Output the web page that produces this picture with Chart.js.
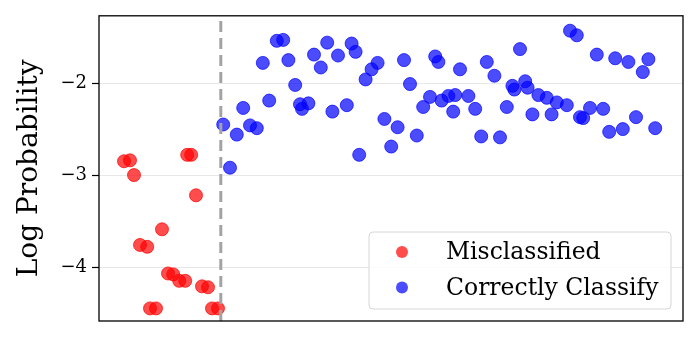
<!DOCTYPE html>
<html>
<head>
<meta charset="utf-8">
<script src="https://cdn.jsdelivr.net/npm/chart.js@4.4.1/dist/chart.umd.min.js"></script>
<style>
    html, body { margin: 0; padding: 0; background: #fff; }
    #wrap { width: 698px; height: 337px; }
</style>
</head>
<body>
<div id="wrap"><canvas id="probChart"></canvas></div>
<script>
// sample position (index-like) and log probability
const redX = [6.5, 8, 9, 10.5, 12.3, 13, 14.5, 16, 17.5, 18.8, 20.3, 21.8, 22.3, 23.3, 24.5, 26, 27.5, 28.5, 30];
const redY = [-2.85, -2.84, -3.0, -3.76, -3.78, -4.45, -4.45, -3.59, -4.07, -4.08, -4.15, -4.15, -2.78, -2.78, -3.22, -4.21, -4.22, -4.45, -4.45];

const blueX = [31.3, 33, 34.7, 36.3, 38, 39.7, 41.2, 42.8, 44.7, 46.3, 47.6, 49.3, 50.5, 51, 52.6, 54, 55.7, 57.3, 58.6, 60,
    62.2, 63.4, 64.4, 65.3, 66.9, 68.4, 69.9, 71.6, 73.3, 74.9, 76.5, 78, 79.7, 81.3, 83, 84.3, 85.1, 85.9, 87.6, 88.8,
    89.3, 90.5, 92.6, 94.3, 95.8, 97.2, 99.1, 100.5, 102.2, 103.6, 104.1, 105.5, 106.8, 107.4, 108.6, 110.1, 112.2, 113.4, 114.7, 117.2,
    118, 119.7, 120.5, 121.3, 123, 124.7, 126.3, 127.8, 129.3, 131.2, 132.6, 134.5, 136.2, 137.6, 139.3];
const blueY = [-2.45, -2.92, -2.56, -2.27, -2.46, -2.49, -1.78, -2.19, -1.54, -1.53, -1.75, -2.02, -2.23, -2.28, -2.22, -1.69, -1.83, -1.56, -2.31, -1.70,
    -2.24, -1.57, -1.66, -2.78, -1.96, -1.85, -1.78, -2.39, -2.69, -2.48, -1.75, -2.01, -2.57, -2.26, -2.15, -1.71, -1.77, -2.19, -2.14, -2.31,
    -2.13, -1.85, -2.14, -2.28, -2.58, -1.77, -1.92, -2.59, -2.26, -2.03, -2.07, -1.63, -1.98, -2.05, -2.34, -2.13, -2.16, -2.34, -2.21, -2.24,
    -1.43, -1.48, -2.37, -2.38, -2.27, -1.69, -2.28, -2.53, -1.73, -2.50, -1.77, -2.37, -1.88, -1.74, -2.49];

const thresholdX = 30.7;
const yTicks = [-4, -3, -2];
const labels = ['Misclassified', 'Correctly Classify'];

const xRange = [0.25, 146.25];
const yRange = [-4.587, -1.268];

const serif = "'DejaVu Serif', 'Liberation Serif', serif";

const toPoints = (xs, ys) => xs.map((x, i) => ({ x: x, y: ys[i] }));

// box round the plot, like a matplotlib axes frame
const framePlugin = {
    id: 'frame',
    afterDatasetsDraw(chart) {
        const { ctx, chartArea: a } = chart;
        ctx.save();
        ctx.strokeStyle = '#000';
        ctx.lineWidth = 1.3;
        ctx.strokeRect(a.left, a.top, a.right - a.left, a.bottom - a.top);
        ctx.restore();
    }
};

// legend drawn inside the lower right corner
const insideLegend = {
    id: 'insideLegend',
    afterDraw(chart) {
        const ctx = chart.ctx;
        const sets = chart.data.datasets.filter(d => d.type === 'scatter');
        const box = { x: 369, y: 232, w: 302, h: 77 };
        ctx.save();
        ctx.beginPath();
        ctx.roundRect(box.x, box.y, box.w, box.h, 4);
        ctx.fillStyle = 'rgba(255,255,255,0.8)';
        ctx.fill();
        ctx.strokeStyle = '#d6d6d6';
        ctx.lineWidth = 1;
        ctx.stroke();
        ctx.font = '23.5px ' + serif;
        ctx.textBaseline = 'middle';
        sets.forEach((d, i) => {
            const cy = 252 + i * 35.5;
            ctx.beginPath();
            ctx.arc(402, cy, 6, 0, Math.PI * 2);
            ctx.fillStyle = d.backgroundColor;
            ctx.fill();
            ctx.fillStyle = '#000';
            ctx.fillText(d.label, 446, cy + 1);
        });
        ctx.restore();
    }
};

new Chart(document.getElementById('probChart'), {
    data: {
        datasets: [
            {
                type: 'line',
                label: 'threshold',
                data: [{ x: thresholdX, y: yRange[0] }, { x: thresholdX, y: yRange[1] }],
                borderColor: '#a3a3a3',
                borderWidth: 3,
                borderDash: [11, 6],
                pointRadius: 0,
                order: 0
            },
            {
                type: 'scatter',
                label: labels[0],
                data: toPoints(redX, redY),
                backgroundColor: 'rgba(255,0,0,0.7)',
                borderColor: 'rgba(255,0,0,0.7)',
                borderWidth: 1,
                pointRadius: 6.5,
                order: 2
            },
            {
                type: 'scatter',
                label: labels[1],
                data: toPoints(blueX, blueY),
                backgroundColor: 'rgba(0,0,255,0.7)',
                borderColor: 'rgba(0,0,255,0.7)',
                borderWidth: 1,
                pointRadius: 6.5,
                order: 1
            }
        ]
    },
    options: {
        responsive: true,
        maintainAspectRatio: false,
        animation: false,
        layout: { padding: { left: 13, right: 15, top: 14, bottom: 16 } },
        plugins: {
            legend: { display: false },
            tooltip: { enabled: false }
        },
        scales: {
            x: {
                type: 'linear',
                display: false,
                min: xRange[0],
                max: xRange[1]
            },
            y: {
                type: 'linear',
                min: yRange[0],
                max: yRange[1],
                afterBuildTicks: scale => {
                    scale.ticks = yTicks.map(v => ({ value: v }));
                },
                afterFit: scale => {
                    scale.width = 86;
                },
                grid: {
                    color: '#e8e8e8',
                    lineWidth: 1,
                    tickColor: '#000',
                    tickLength: 7,
                    tickWidth: 1.2
                },
                border: { display: false },
                ticks: {
                    padding: 5,
                    color: '#000',
                    font: { family: serif, size: 18 },
                    callback: v => String(v).replace('-', '\u2212')
                },
                title: {
                    display: true,
                    text: 'Log Probability',
                    color: '#000',
                    font: { family: serif, size: 28 },
                    padding: { top: 0, bottom: 0 }
                }
            }
        }
    },
    plugins: [framePlugin, insideLegend]
});
</script>
</body>
</html>
